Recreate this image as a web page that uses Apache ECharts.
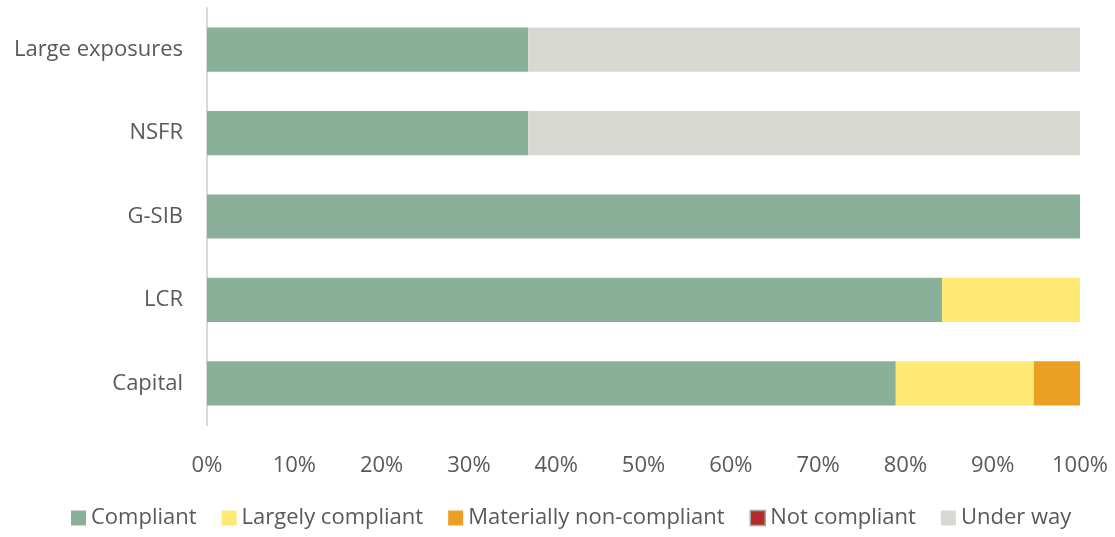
<!DOCTYPE html>
<html><head><meta charset="utf-8">
<script src="https://cdn.jsdelivr.net/npm/echarts@6/dist/echarts.min.js"></script>
<style>html,body{margin:0;padding:0;background:#fff}#c{width:1115px;height:537px}</style>
</head><body><div id="c"></div>
<script>
const categories = ['Capital', 'LCR', 'G-SIB', 'NSFR', 'Large exposures'];
const compliant = [78.9, 84.2, 100, 36.8, 36.8];
const largelyCompliant = [15.8, 15.8, 0, 0, 0];
const materiallyNonCompliant = [5.3, 0, 0, 0, 0];
const notCompliant = [0, 0, 0, 0, 0];
const underWay = [0, 0, 0, 63.2, 63.2];
const xTicks = [0, 10, 20, 30, 40, 50, 60, 70, 80, 90, 100];

const font = '"Open Sans", "Noto Sans", sans-serif';
const mk = (name, data, color) => ({
  name, type: 'bar', stack: 'a', data, barCategoryGap: '47%',
  itemStyle: { color, borderWidth: 0 },
  emphasis: { disabled: true }
});
const chart = echarts.init(document.getElementById('c'), null, { renderer: 'canvas' });
chart.setOption({
  animation: false,
  grid: { left: 207, right: 35, top: 8, bottom: 112, containLabel: false },
  legend: {
    bottom: 3, left: 66, itemWidth: 15, itemHeight: 15, itemGap: 25, icon: 'rect',
    textStyle: { color: '#595959', fontSize: 22, fontFamily: font },
    data: ['Compliant', 'Largely compliant', 'Materially non-compliant',
      { name: 'Not compliant', itemStyle: { borderColor: '#A6A6A6', borderWidth: 1.5 } }, 'Under way']
  },
  xAxis: {
    type: 'value', min: 0, max: 100, interval: 10,
    axisLine: { show: false }, axisTick: { show: false }, splitLine: { show: false },
    axisLabel: {
      color: '#595959', fontSize: 22, fontFamily: font, margin: 30,
      formatter: v => xTicks.includes(v) ? v + '%' : ''
    }
  },
  yAxis: {
    type: 'category', data: categories,
    axisLine: { show: true, lineStyle: { color: '#D9D9D9', width: 2 } },
    axisTick: { show: false },
    axisLabel: { color: '#595959', fontSize: 22, fontFamily: font, margin: 24 }
  },
  series: [
    mk('Compliant', compliant, '#8BB09A'),
    mk('Largely compliant', largelyCompliant, '#FEE975'),
    mk('Materially non-compliant', materiallyNonCompliant, '#E9A023'),
    mk('Not compliant', notCompliant, '#B22D2A'),
    mk('Under way', underWay, '#D8D8D3')
  ]
});
</script></body></html>
